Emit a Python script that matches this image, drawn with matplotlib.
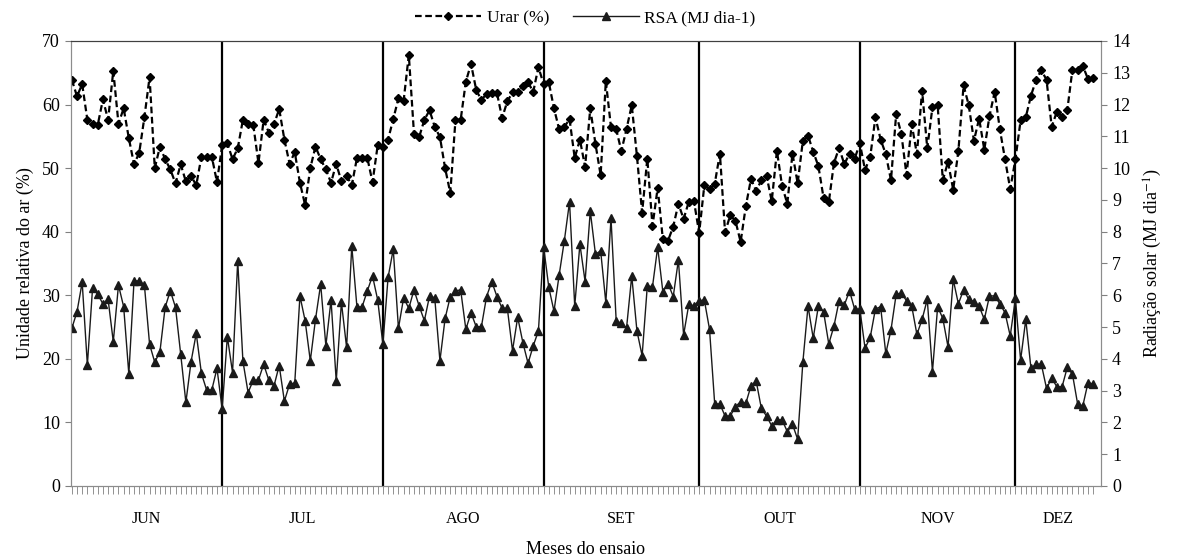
import numpy as np
import matplotlib.pyplot as plt

# Daily series, June 1 to December 15
urar = [63.9, 61.3, 63.2, 57.6, 56.9, 56.8, 60.8, 57.6, 65.3, 57.0,
        59.4, 54.7, 50.6, 52.4, 58.0, 64.3, 50.0, 53.4, 51.4, 49.8,
        47.6, 50.6, 47.9, 48.8, 47.3, 51.8, 51.8, 51.8, 47.8, 53.6,
        53.9, 51.4, 53.1, 57.6, 56.9, 56.8, 50.8, 57.6, 55.6, 56.9,
        59.3, 54.5, 50.7, 52.5, 47.7, 44.2, 50.0, 53.4, 51.4, 49.8,
        47.7, 50.7, 47.9, 48.8, 47.3, 51.6, 51.6, 51.6, 47.8, 53.6,
        53.3, 54.5, 57.7, 61.0, 60.6, 67.8, 55.4, 54.9, 57.6, 59.1,
        56.5, 54.9, 50.0, 46.1, 57.6, 57.6, 63.6, 66.4, 62.3, 60.7,
        61.7, 61.8, 61.8, 57.9, 60.5, 61.9, 62.0, 62.9, 63.5, 62.0,
        65.9, 63.2, 63.5, 59.4, 56.1, 56.5, 57.7, 51.6, 54.5, 50.2,
        59.4, 53.8, 48.9, 63.7, 56.4, 56.1, 52.7, 56.2, 59.9, 51.9,
        43.0, 51.5, 40.9, 46.9, 38.8, 38.6, 40.8, 44.4, 42.0, 44.7,
        44.8, 39.8, 47.3, 46.7, 47.5, 52.3, 39.9, 42.6, 41.7, 38.4,
        44.0, 48.3, 46.4, 48.1, 48.8, 44.8, 52.7, 47.2, 44.4, 52.3,
        47.6, 54.3, 55.1, 52.6, 50.3, 45.3, 44.6, 50.8, 53.2, 50.6,
        52.3, 51.5, 53.9, 49.7, 51.8, 58.0, 54.5, 52.2, 48.1, 58.5,
        55.4, 48.9, 56.9, 52.2, 62.2, 53.1, 59.6, 59.9, 48.1, 51.0,
        46.6, 52.7, 63.0, 59.9, 54.3, 57.8, 52.9, 58.2, 62.0, 56.1,
        51.4, 46.7, 51.4, 57.5, 58.0, 61.4, 63.9, 65.4, 63.9, 56.5,
        58.9, 58.1, 59.1, 65.5, 65.4, 66.1, 64.0, 64.2]

rsa = [4.96, 5.48, 6.41, 3.81, 6.22, 6.03, 5.73, 5.87, 4.54, 6.32,
       5.64, 3.52, 6.45, 6.45, 6.32, 4.46, 3.89, 4.23, 5.62, 6.14,
       5.62, 4.15, 2.63, 3.91, 4.80, 3.54, 3.02, 3.02, 3.70, 2.42,
       4.70, 3.57, 7.09, 3.93, 2.94, 3.33, 3.33, 3.83, 3.33, 3.15,
       3.79, 2.67, 3.20, 3.24, 5.98, 5.20, 3.94, 5.24, 6.35, 4.41,
       5.85, 3.30, 5.78, 4.36, 7.55, 5.62, 5.64, 6.14, 6.61, 5.85,
       4.46, 6.56, 7.45, 4.96, 5.92, 5.59, 6.17, 5.66, 5.20, 5.98,
       5.92, 3.94, 5.27, 5.96, 6.14, 6.17, 4.93, 5.45, 5.01, 5.01,
       5.96, 6.43, 5.96, 5.59, 5.59, 4.26, 5.31, 4.51, 3.86, 4.41,
       4.88, 7.53, 6.25, 5.50, 6.64, 7.72, 8.94, 5.66, 7.61, 6.43,
       8.65, 7.29, 7.40, 5.77, 8.42, 5.19, 5.12, 4.98, 6.61, 4.88,
       4.10, 6.29, 6.27, 7.51, 6.11, 6.37, 5.96, 7.11, 4.75, 5.71,
       5.67, 5.83, 5.85, 4.93, 2.58, 2.58, 2.20, 2.20, 2.50, 2.65,
       2.60, 3.15, 3.30, 2.44, 2.20, 1.89, 2.08, 2.08, 1.71, 1.94,
       1.47, 3.89, 5.66, 4.65, 5.66, 5.48, 4.47, 5.03, 5.83, 5.69,
       6.14, 5.56, 5.56, 4.33, 4.68, 5.57, 5.64, 4.17, 4.91, 6.03,
       6.06, 5.83, 5.66, 4.77, 5.24, 5.87, 3.60, 5.64, 5.27, 4.38,
       6.50, 5.73, 6.17, 5.87, 5.80, 5.66, 5.24, 5.98, 5.98, 5.73,
       5.45, 4.72, 5.90, 3.96, 5.24, 3.70, 3.83, 3.83, 3.07, 3.39,
       3.12, 3.12, 3.73, 3.52, 2.58, 2.52, 3.25, 3.21]

months = ['JUN', 'JUL', 'AGO', 'SET', 'OUT', 'NOV', 'DEZ']
month_days = [30, 31, 31, 30, 31, 30, 15]

plt.rcParams['font.family'] = ['Liberation Serif', 'DejaVu Serif']
plt.rcParams['mathtext.fontset'] = 'stix'

days = np.arange(len(urar))
ends = np.cumsum(month_days) - 1          # last day of each month
x_left, x_right = -0.15, 198.5

fig = plt.figure(figsize=(11.78, 5.59), dpi=100)
ax = fig.add_axes([0.0603, 0.1306, 0.8743, 0.7961])
ax2 = ax.twinx()

l1, = ax.plot(days, urar, color='black', linestyle=(0, (3, 1.6)), linewidth=1.6,
              marker='D', markersize=4.5, label='Urar (%)')
l2, = ax2.plot(days, rsa, color='#1a1a1a', linestyle='-', linewidth=1.0,
               marker='^', markersize=5.5, label='RSA (MJ dia-1)')

# month separators
for e in ends[:-1]:
    ax.axvline(e, color='black', linewidth=1.6, zorder=1)

ax.set_xlim(x_left, x_right)
ax.set_ylim(0, 70)
ax.set_yticks(np.arange(0, 71, 10))
ax2.set_ylim(0, 14)
ax2.set_yticks(np.arange(0, 15, 1))

ax.set_xticks(days, minor=True)
ax.set_xticks([])
ax.tick_params(axis='x', which='minor', length=6, width=0.6, color='#808080')
ax.tick_params(axis='y', labelsize=13, length=4, color='#808080', pad=4)
ax2.tick_params(axis='y', labelsize=13, length=4, color='#808080', pad=4)

# month names centred under each month
starts = np.concatenate([[x_left], ends[:-1]])
stops = np.concatenate([ends[:-1], [x_right]])
for m, a, b in zip(months, starts, stops):
    ax.text((a + b) / 2, -0.075, m, transform=ax.get_xaxis_transform(),
            ha='center', va='center', fontsize=11.5)

ax.set_xlabel('Meses do ensaio', fontsize=13, labelpad=30)
ax.set_ylabel('Unidade relativa do ar (%)', fontsize=13, labelpad=6)
ax2.set_ylabel('Radiação solar (MJ dia$^{-1}$)', fontsize=13, labelpad=8)

for a in (ax, ax2):
    for s in ['left', 'right', 'bottom']:
        a.spines[s].set_color('#8c8c8c')
    a.spines['top'].set_color('#404040')

fig.legend(handles=[l1, l2], loc='upper center', bbox_to_anchor=(0.497, 1.01),
           ncol=2, frameon=False, fontsize=12.5, handlelength=3.8,
           columnspacing=1.4, handletextpad=0.3)

fig.savefig('out.png', dpi=100)
